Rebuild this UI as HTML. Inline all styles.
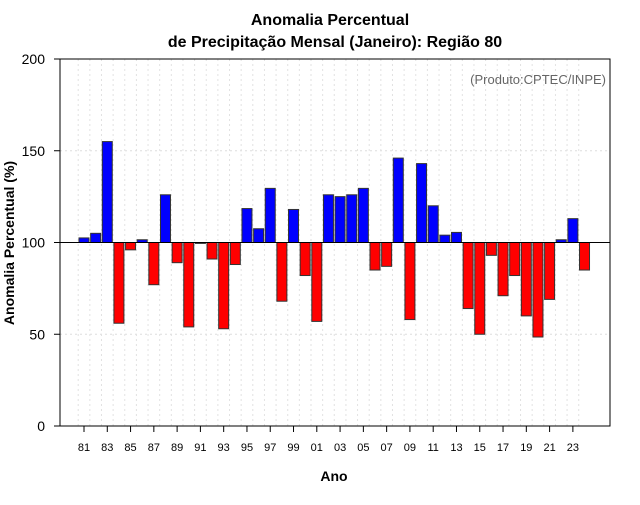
<!DOCTYPE html>
<html><head><meta charset="utf-8"><style>
body{margin:0;background:#fff;font-family:"Liberation Sans",sans-serif}
</style></head><body>
<svg width="640" height="500" xmlns="http://www.w3.org/2000/svg" font-family="Liberation Sans, sans-serif">
<text x="330" y="25" text-anchor="middle" font-size="16" font-weight="bold">Anomalia Percentual</text>
<text x="335" y="47" text-anchor="middle" font-size="16" font-weight="bold">de Precipitação Mensal (Janeiro): Região 80</text>
<g id="grid"></g>
<g id="bars"></g>
<line x1="60" x2="610" y1="242.5" y2="242.5" stroke="#000" stroke-width="1"/>
<rect x="60" y="59" width="550" height="367" fill="none" stroke="#000"/>
<g id="axes"></g>
<text x="606" y="84" text-anchor="end" font-size="13" fill="#666">(Produto:CPTEC/INPE)</text>
<text x="334" y="481" text-anchor="middle" font-size="14" font-weight="bold">Ano</text>
<text transform="translate(14,243) rotate(-90)" text-anchor="middle" font-size="14" font-weight="bold">Anomalia Percentual (%)</text>
</svg>
<script>
const years=[1981,1982,1983,1984,1985,1986,1987,1988,1989,1990,1991,1992,1993,1994,1995,1996,1997,1998,1999,2000,2001,2002,2003,2004,2005,2006,2007,2008,2009,2010,2011,2012,2013,2014,2015,2016,2017,2018,2019,2020,2021,2022,2023,2024];
const values=[102.5,105,155,56,96,101.5,77,126,89,54,99.5,91,53,88,118.5,107.5,129.5,68,118,82,57,126,125,126,129.5,85,87,146,58,143,120,104,105.5,64,50,93,71,82,60,48.5,69,101.5,113,85];
const yTicks=[0,50,100,150,200];
const NS="http://www.w3.org/2000/svg";
const xs=y=>84+(y-1981)*11.64;
const ys=v=>426-v*1.835;
const grid=document.getElementById('grid'),bars=document.getElementById('bars'),axes=document.getElementById('axes');
function mk(tag,at,parent){const e=document.createElementNS(NS,tag);for(const k in at)e.setAttribute(k,at[k]);parent.appendChild(e);return e;}
yTicks.forEach(t=>{
 if(t>0&&t<200){const g=mk('line',{x1:60,x2:610,y1:ys(t),y2:ys(t),stroke:'#ddd','stroke-dasharray':'2,3'},grid);
 
 }
 const tk=mk('line',{x1:54,x2:60,y1:ys(t),y2:ys(t),stroke:'#000'},axes);
 
 
 const l=mk('text',{x:45,y:ys(t)+5,'text-anchor':'end','font-size':14},axes);l.textContent=t;
 
 
});
years.forEach((y,i)=>{
 const x=xs(y);
 const g=mk('line',{x1:x-5.8,x2:x-5.8,y1:59,y2:426,stroke:'#e2e2e2','stroke-dasharray':'2,3'},grid);
 
 
 const v=values[i];
 const top=Math.min(ys(v),ys(100)),h=Math.abs(ys(v)-ys(100));
 const b=mk('rect',{x:x-5,y:top,width:10,height:h,fill:v>=100?'#0000ff':'#ff0000',stroke:'#333','stroke-width':1},bars);
 
 
 if(y%2===1){
  const tk=mk('line',{x1:x,x2:x,y1:426,y2:432,stroke:'#000'},axes);
  
  
  const l=mk('text',{x:x,y:451,'text-anchor':'middle','font-size':11},axes);l.textContent=String(y%100).padStart(2,'0');
  
  
 }
});
</script>
</body></html>
